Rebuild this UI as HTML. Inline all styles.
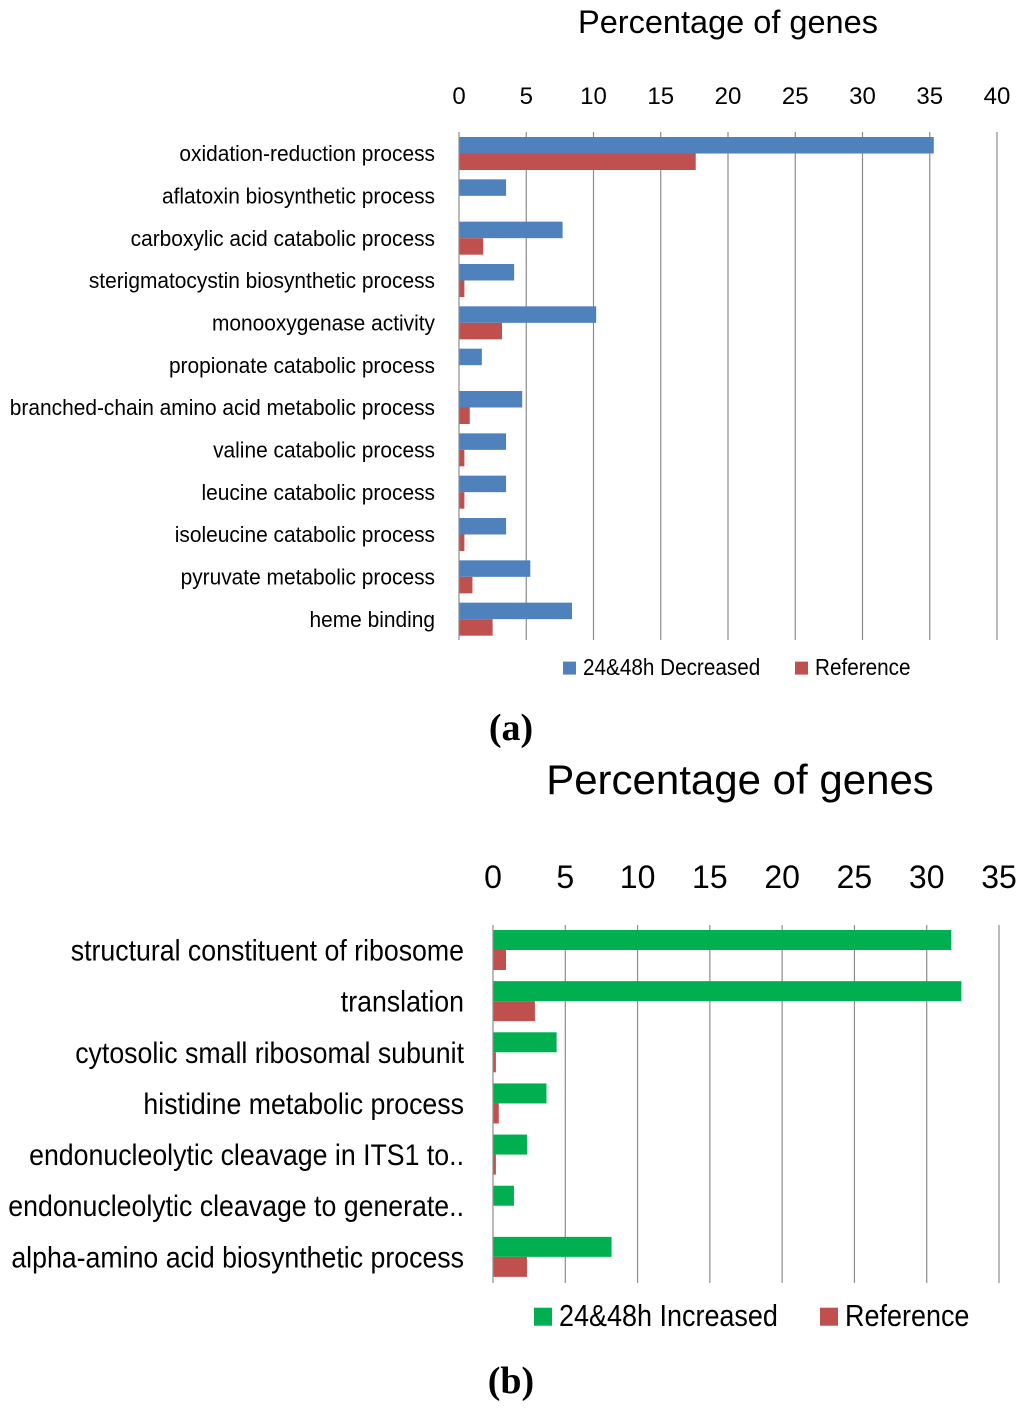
<!DOCTYPE html>
<html><head><meta charset="utf-8"><style>
html,body{margin:0;padding:0;background:#fff;}
svg{display:block;}
</style></head><body>
<svg id="svg" width="1024" height="1409" xmlns="http://www.w3.org/2000/svg"></svg>
<script>
// Chart (a) data
const catsA = ["oxidation-reduction process","aflatoxin biosynthetic process","carboxylic acid catabolic process","sterigmatocystin biosynthetic process","monooxygenase activity","propionate catabolic process","branched-chain amino acid metabolic process","valine catabolic process","leucine catabolic process","isoleucine catabolic process","pyruvate metabolic process","heme binding"];
const decreasedA = [35.3,3.5,7.7,4.1,10.2,1.7,4.7,3.5,3.5,3.5,5.3,8.4];
const referenceA = [17.6,0,1.8,0.4,3.2,0,0.8,0.4,0.4,0.4,1.0,2.5];
const ticksA = [0,5,10,15,20,25,30,35,40];
// Chart (b) data
const catsB = ["structural constituent of ribosome","translation","cytosolic small ribosomal subunit","histidine metabolic process","endonucleolytic cleavage in ITS1 to..","endonucleolytic cleavage to generate..","alpha-amino acid biosynthetic process"];
const increasedB = [31.7,32.4,4.4,3.7,2.35,1.45,8.2];
const referenceB = [0.9,2.9,0.2,0.4,0.2,0,2.35];
const ticksB = [0,5,10,15,20,25,30,35];

const NS="http://www.w3.org/2000/svg";
const svg=document.getElementById('svg');
function mk(tag,attrs,parent){const e=document.createElementNS(NS,tag);for(const k in attrs)e.setAttribute(k,attrs[k]);(parent||svg).appendChild(e);return e;}
const FONT='"Liberation Sans",sans-serif';
function squeeze(t,f){const L=t.getComputedTextLength();t.setAttribute('textLength',L*f);t.setAttribute('lengthAdjust','spacingAndGlyphs');}

function chart(o){
  const g=mk('g',{});
  
  
  const x=v=>o.x0+(v/o.max)*(o.x1-o.x0);
  const band=(o.bottom-o.top)/o.cats.length;
  o.ticks.forEach(t=>{
    if(t===0)return;
    const l=mk('line',{x1:x(t),x2:x(t),y1:o.top,y2:o.bottom,stroke:'#8c8c8c','stroke-width':1.2},g);
    
    
  });
  o.ticks.forEach(t=>{
    const tx=mk('text',{x:x(t),y:o.tickY,'text-anchor':'middle','font-size':o.tickSize,'font-family':FONT,fill:'#000'},g);
    tx.textContent=t;
    
    
  });
  o.cats.forEach((c,i)=>{
    const y0=o.top+i*band+o.pad;
    const w1=x(o.s1[i])-o.x0;
    const b1=mk('rect',{x:o.x0,y:y0,width:Math.max(0,w1),height:o.bh,fill:o.c1},g);
    
    
    const w2=x(o.s2[i])-o.x0;
    const b2=mk('rect',{x:o.x0,y:y0+o.bh,width:Math.max(0,w2),height:o.bh,fill:'#c0504d'},g);
    
    
    const lt=mk('text',{x:o.labelX,y:y0+o.bh+o.labelSize*0.35,'text-anchor':'end','font-size':o.labelSize,'font-family':FONT,fill:'#000'},g);
    lt.textContent=c;
    
    
    squeeze(lt,o.labelSq);
  });
  const ax=mk('line',{x1:o.x0,x2:o.x0,y1:o.top,y2:o.bottom,stroke:'#8c8c8c','stroke-width':1.2},g);
  
  
  const ti=mk('text',{x:o.titleX,y:o.titleY,'text-anchor':'middle','font-size':o.titleSize,'font-family':FONT,fill:'#000'},g);
  ti.textContent='Percentage of genes';
  
  
  const lg=mk('g',{},g);
  
  
  o.legend.forEach(L=>{
    const r=mk('rect',{x:L.x,y:o.legY-L.s/2-o.legSize*0.3,width:L.s,height:L.s,fill:L.c},lg);
    
    
    const t=mk('text',{x:L.x+L.s+7,y:o.legY,'font-size':o.legSize,'font-family':FONT,fill:'#000'},lg);
    t.textContent=L.t;
    
    
    squeeze(t,o.legSq);
  });
}

chart({name:'chart-a',cats:catsA,s1:decreasedA,s2:referenceA,s1name:'decreased',c1:'#4f81bd',ticks:ticksA,max:40,
  x0:459,x1:997,top:132,bottom:640,pad:5,bh:16.5,tickY:104,tickSize:24,labelX:435,labelSize:22,labelSq:0.95,
  titleX:728,titleY:33,titleSize:32.5,legY:675,legSize:23,legSq:0.9,
  legend:[{x:563,s:13,c:'#4f81bd',t:'24&48h Decreased'},{x:795,s:13,c:'#c0504d',t:'Reference'}]});

chart({name:'chart-b',cats:catsB,s1:increasedB,s2:referenceB,s1name:'increased',c1:'#00b050',ticks:ticksB,max:35,
  x0:493,x1:999,top:925,bottom:1283,pad:5,bh:20,tickY:888,tickSize:32,labelX:464,labelSize:30,labelSq:0.89,
  titleX:740,titleY:794,titleSize:42,legY:1326,legSize:31,legSq:0.87,
  legend:[{x:534,s:18,c:'#00b050',t:'24&48h Increased'},{x:820,s:18,c:'#c0504d',t:'Reference'}]});

[['(a)',740,'panel-label-a'],['(b)',1393,'panel-label-b']].forEach(p=>{
  const t=mk('text',{x:511,y:p[1],'text-anchor':'middle','font-size':38,'font-weight':'bold','font-family':'"Liberation Serif",serif',fill:'#000'});
  t.textContent=p[0];
  
  
});
</script>
</body></html>
